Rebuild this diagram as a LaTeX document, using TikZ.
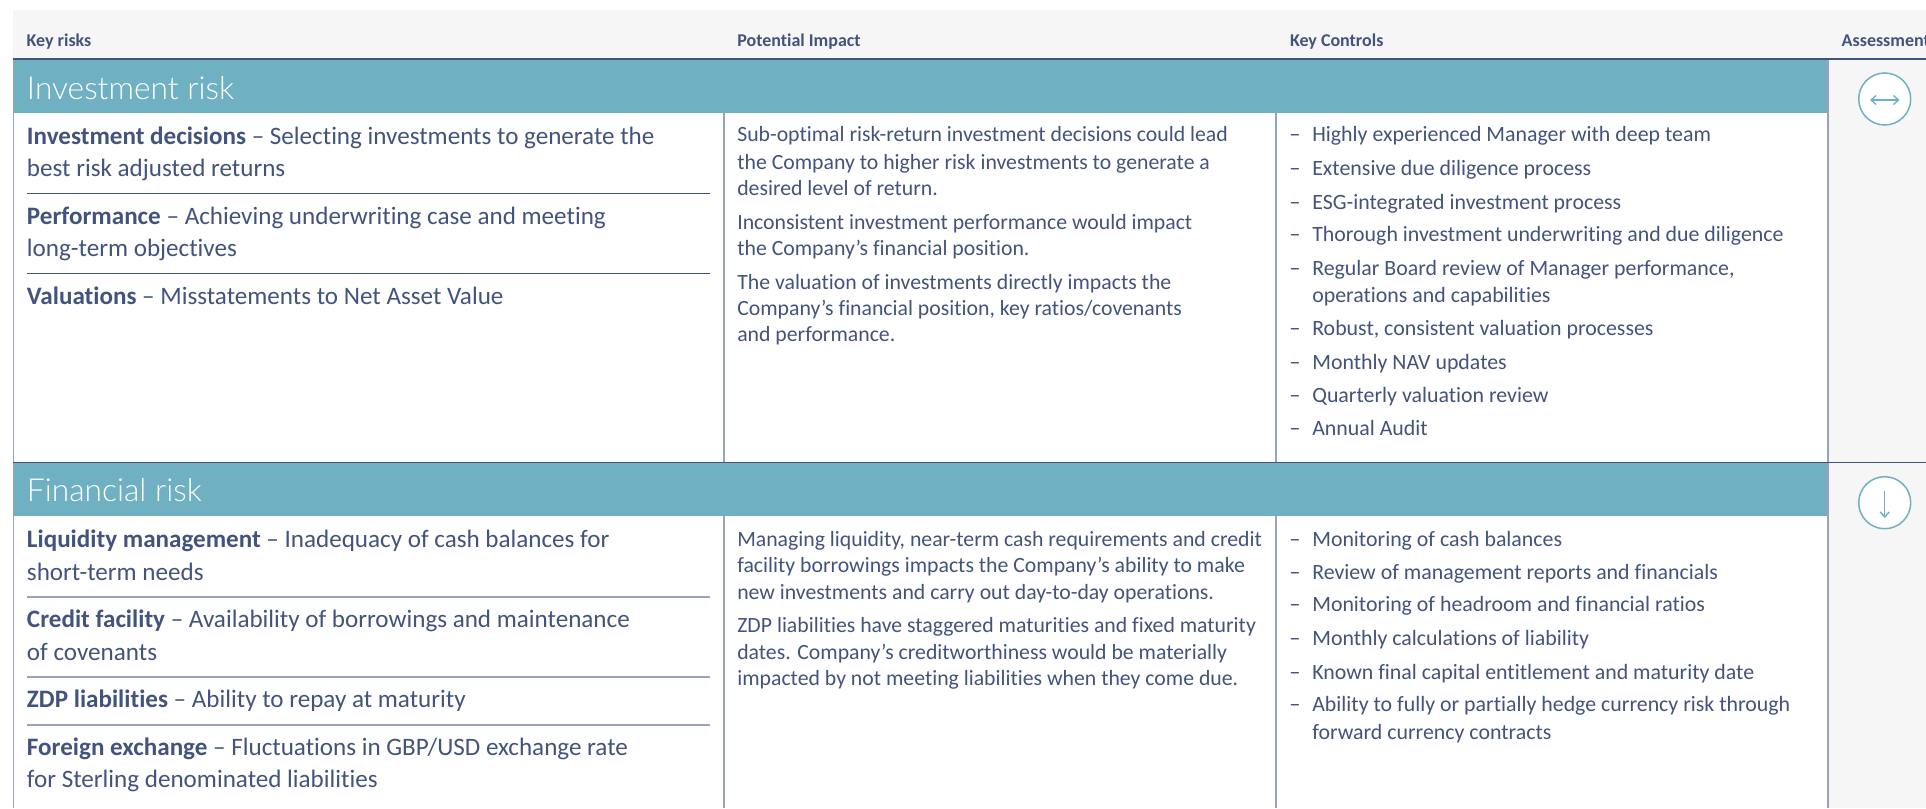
\documentclass[tikz,border=0pt]{standalone}
\usepackage{fontspec}
\setmainfont{Carlito}[Ligatures=NoCommon]
\newfontfamily\lightface{Lato Light}
\definecolor{ink}{HTML}{43547C}
\definecolor{band}{HTML}{6FB1C2}
\definecolor{panel}{HTML}{F6F6F6}
\definecolor{soft}{HTML}{9AA3BB}
\usetikzlibrary{arrows.meta}
\tikzset{
  x=1pt,y=-1pt,
  txt/.style={anchor=base west,inner sep=0pt,outer sep=0pt,text=ink},
  hdr/.style={txt,font=\fontsize{18}{20}\selectfont\bfseries},
  ttl/.style={txt,text=white,font=\lightface\fontsize{31.7}{38}\selectfont},
  lft/.style={txt,font=\fontsize{25.1}{30}\selectfont},
  bod/.style={txt,font=\fontsize{21.75}{26}\selectfont},
  ctl/.style={txt,font=\fontsize{21.85}{26}\selectfont},
  dashmark/.style={txt,font=\fontsize{22.5}{26}\selectfont},
  ruledark/.style={draw=ink,line width=1.2pt},
  rulesoft/.style={draw=soft,line width=1.6pt},
  colline/.style={draw=soft,line width=1.6pt},
  badge/.style={circle,draw=band,fill=white,line width=1.5pt,minimum size=52pt,inner sep=0pt,outer sep=0pt},
  trend/.style={draw=band,line width=1.4pt,arrows={Straight Barb[length=5pt,width=9pt]-Straight Barb[length=5pt,width=9pt]}},
  trenddown/.style={draw=band,line width=1.4pt,arrows={-Straight Barb[length=5pt,width=9pt]}},
}
\begin{document}
\begin{tikzpicture}
\useasboundingbox (0,0) rectangle (1926,808);
\fill[white] (0,0) rectangle (1926,808);
\fill[panel] (13,10) rectangle (1926,808);
\fill[white] (13.5,59) rectangle (1828,808);
\fill[band] (13.5,59) rectangle (1828,112.7);
\fill[band] (13.5,462.7) rectangle (1828,516);
% structural lines
\draw[colline] (724,112.7) -- (724,462.7);
\draw[colline] (1276,112.7) -- (1276,462.7);
\draw[colline] (724,516) -- (724,808);
\draw[colline] (1276,516) -- (1276,808);
\draw[colline] (1828,59) -- (1828,808);
\draw[colline] (13.5,59) -- (13.5,808);
\draw[ruledark] (13,59) -- (1926,59);
\draw[ruledark] (13,462.7) -- (1926,462.7);
\draw[ruledark] (27,193.5) -- (710,193.5);
\draw[ruledark] (27,273.5) -- (710,273.5);
\draw[rulesoft] (27,596.7) -- (710,596.7);
\draw[rulesoft] (27,677) -- (710,677);
\draw[rulesoft] (27,725) -- (710,725);
% header
\node[hdr] (h1) at (26.7,46.5) {Key risks};
\node[hdr] (h2) at (737.3,46.5) {Potential Impact};
\node[hdr] (h3) at (1290,46.5) {Key Controls};
\node[hdr] (h4) at (1841.7,46.5) {Assessment};
% section titles
\node[ttl] (t1) at (27,99) {Investment risk};
\node[ttl] (t2) at (27,501) {Financial risk};
% left col
\node[lft] (a1) at (27,144) {\textbf{Investment decisions} – Selecting investments to generate the};
\node[lft] (a2) at (27,176) {best risk adjusted returns};
\node[lft] (a3) at (27,224) {\textbf{Performance} – Achieving underwriting case and meeting};
\node[lft] (a4) at (27,256) {long-term objectives};
\node[lft] (a5) at (27,304) {\textbf{Valuations} – Misstatements to Net Asset Value};
\node[lft] (a6) at (27,547.7) {\textbf{Liquidity management} – Inadequacy of cash balances for};
\node[lft] (a7) at (27,580) {short-term needs};
\node[lft] (a8) at (27,627.7) {\textbf{Credit facility} – Availability of borrowings and maintenance};
\node[lft] (a9) at (27,660) {of covenants};
\node[lft] (a10) at (27,707.7) {\textbf{ZDP liabilities} – Ability to repay at maturity};
\node[lft] (a11) at (27,755.7) {\textbf{Foreign exchange} – Fluctuations in GBP/USD exchange rate};
\node[lft] (a12) at (27,787.7) {for Sterling denominated liabilities};
% impact col
\node[bod] (b1) at (737.3,141.7) {Sub-optimal risk-return investment decisions could lead};
\node[bod] (b2) at (737.3,169) {the Company to higher risk investments to generate a};
\node[bod] (b3) at (737.3,195) {desired level of return.};
\node[bod] (b4) at (737.3,229) {Inconsistent investment performance would impact};
\node[bod] (b5) at (737.3,255) {the Company’s financial position.};
\node[bod] (b6) at (737.3,289) {The valuation of investments directly impacts the};
\node[bod] (b7) at (737.3,315) {Company’s financial position, key ratios/covenants};
\node[bod] (b8) at (737.3,341.7) {and performance.};
\node[bod] (b9) at (737.3,546) {Managing liquidity, near-term cash requirements and credit};
\node[bod] (b10) at (737.3,572.3) {facility borrowings impacts the Company’s ability to make};
\node[bod] (b11) at (737.3,599) {new investments and carry out day-to-day operations.};
\node[bod] (b12) at (737.3,632.3) {ZDP liabilities have staggered maturities and fixed maturity};
\node[bod] (b13) at (737.3,659) {dates. Company’s creditworthiness would be materially};
\node[bod] (b14) at (737.3,685.7) {impacted by not meeting liabilities when they come due.};
% controls col
\foreach \n/\y/\s in {1/141.7/Highly experienced Manager with deep team,
 2/175/Extensive due diligence process,
 3/209/ESG-integrated investment process,
 4/241.7/Thorough investment underwriting and due diligence,
 5/275/{Regular Board review of Manager performance,},
 7/335/{Robust, consistent valuation processes},
 8/369/Monthly NAV updates,
 9/402.3/Quarterly valuation review,
 10/435/Annual Audit,
 11/546/Monitoring of cash balances,
 12/579/Review of management reports and financials,
 13/611.7/Monitoring of headroom and financial ratios,
 14/645.7/Monthly calculations of liability,
 15/679/Known final capital entitlement and maturity date,
 16/711.7/Ability to fully or partially hedge currency risk through}{
  \node[dashmark] (d\n) at (1289.3,\y) {–};
  \node[ctl] (c\n) at (1312.3,\y) {\s};
}
\node[ctl] (c6) at (1312.3,302.3) {operations and capabilities};
\node[ctl] (c17) at (1312.3,739) {forward currency contracts};
% assessment badges
\node[badge] (inv) at (1884.7,99) {};
\node[badge] (fin) at (1884.7,502.7) {};
\coordinate (invL) at (1870,100);
\coordinate (invR) at (1899.5,100);
\coordinate (finT) at (1884.7,490.7);
\coordinate (finB) at (1884.7,518);
\draw[trend] (invL) -- (invR);
\draw[trenddown] (finT) -- (finB);
\end{tikzpicture}
\end{document}
